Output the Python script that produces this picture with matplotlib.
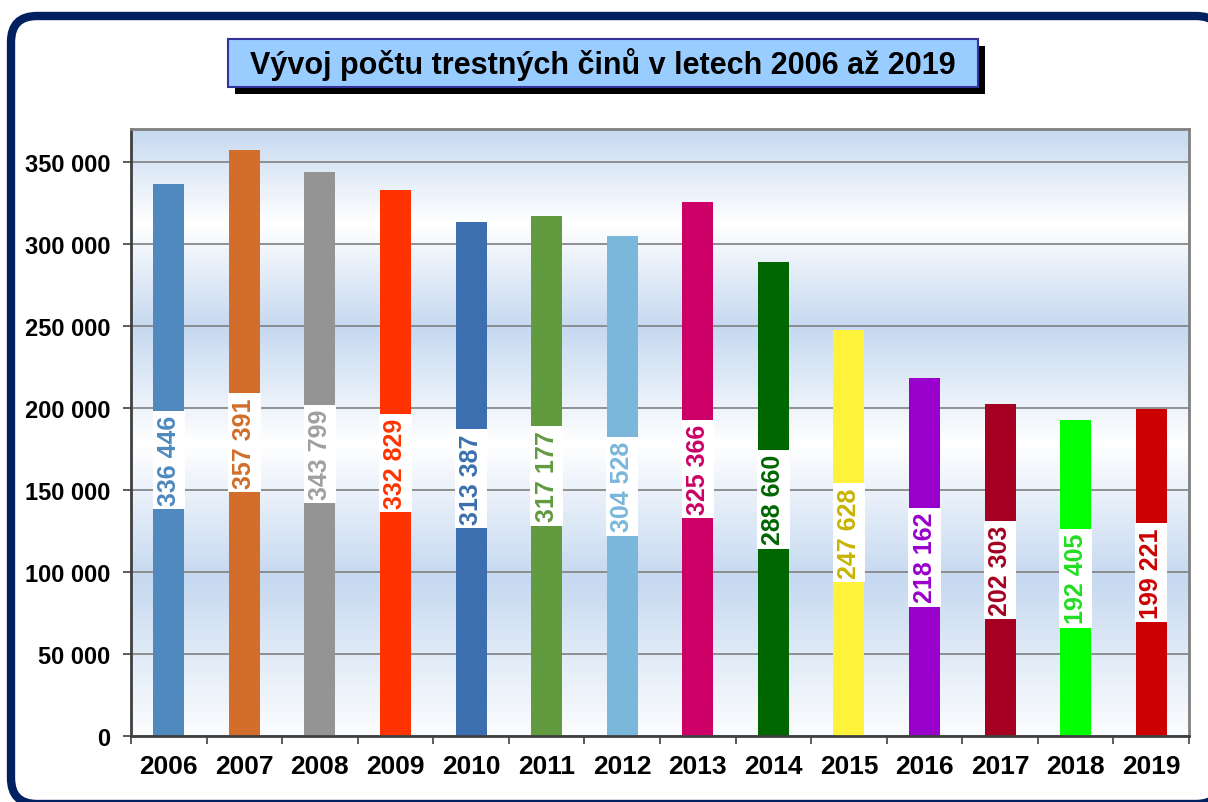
import numpy as np
import matplotlib.pyplot as plt
from matplotlib.patches import FancyBboxPatch, Rectangle
from matplotlib.colors import LinearSegmentedColormap

plt.rcParams["font.family"] = ["Liberation Sans", "DejaVu Sans"]

years = ["2006", "2007", "2008", "2009", "2010", "2011", "2012",
         "2013", "2014", "2015", "2016", "2017", "2018", "2019"]
counts = [336446, 357391, 343799, 332829, 313387, 317177, 304528,
          325366, 288660, 247628, 218162, 202303, 192405, 199221]
bar_colors = ["#4f89bd", "#d26d2b", "#949494", "#ff3300", "#3b6faf", "#629a40",
              "#7ab7da", "#cc0066", "#006600", "#fff23a", "#9900cc", "#a50021",
              "#00ff00", "#cc0000"]
label_colors = ["#4f89bd", "#d26d2b", "#a0a0a0", "#ff3300", "#3b6faf", "#629a40",
                "#7ab7da", "#cc0066", "#006600", "#c8b400", "#9900cc", "#a50021",
                "#22dd22", "#cc0000"]
title = "Vývoj počtu trestných činů v letech 2006 až 2019"

W, H = 1208, 803
fig = plt.figure(figsize=(W / 100, H / 100), dpi=100)
fig.patch.set_facecolor("white")

# pozadí: rám, titulek (v pixelech)
bg = fig.add_axes([0, 0, 1, 1], zorder=0)
bg.set_xlim(0, W)
bg.set_ylim(H, 0)
bg.axis("off")
bg.add_patch(FancyBboxPatch((11, 17), 1211, 788,
                            boxstyle="round,pad=0,rounding_size=26",
                            facecolor="white", edgecolor="#002060", linewidth=6))
bg.add_patch(Rectangle((235, 47), 750, 48, facecolor="black", edgecolor="none"))
bg.add_patch(Rectangle((228, 40), 750, 48, facecolor="#99ccff",
                       edgecolor="#333399", linewidth=1.5))
bg.text(603, 65, title, ha="center", va="center", fontsize=22,
        fontweight="bold", color="black")

ax = fig.add_axes([131 / W, 66 / H, 1058 / W, 607 / H], zorder=1)
ymax = 370000
x = np.arange(len(years))
ax.set_xlim(-0.5, len(years) - 0.5)
ax.set_ylim(0, ymax)

# přechod pozadí grafu
grad_y = [0, 96000, 178000, 249000, 313000, 370000]
grad_v = [0.05, 1.0, 0.0, 1.0, 0.0, 1.0]
yy = np.linspace(0, ymax, 400)
vals = np.interp(yy, grad_y, grad_v).reshape(-1, 1)
cmap = LinearSegmentedColormap.from_list("bg", ["#ffffff", "#c6d9f0"])
ax.imshow(vals, extent=[-0.5, len(years) - 0.5, 0, ymax], origin="lower",
          aspect="auto", cmap=cmap, vmin=0, vmax=1, zorder=0)

ax.set_yticks(range(0, 350001, 50000))
ax.yaxis.grid(True, color="#808080", linewidth=1.2, zorder=1)
ax.set_axisbelow(True)

ax.bar(x, counts, width=0.41, color=bar_colors, zorder=2)

for xi, v, c in zip(x, counts, label_colors):
    ax.text(xi, v / 2, f"{v:,}".replace(",", " "), rotation=90,
            ha="center", va="center", fontsize=18, fontweight="bold", color=c,
            zorder=3,
            bbox=dict(facecolor="white", edgecolor="none", pad=3))

ax.set_yticklabels([f"{v:,}".replace(",", " ") for v in range(0, 350001, 50000)],
                   fontsize=17, fontweight="bold")
ax.set_xticks(x)
ax.set_xticklabels(years, fontsize=19, fontweight="bold")
ax.set_xticks(np.arange(-0.5, len(years)), minor=True)
ax.tick_params(axis="x", which="major", length=0, pad=13)
ax.tick_params(axis="x", which="minor", length=6, width=1.2, color="#404040",
               direction="out")
ax.tick_params(axis="y", length=6, width=1.2, color="#404040", pad=9)

for side in ["left", "bottom"]:
    ax.spines[side].set_color("#404040")
    ax.spines[side].set_linewidth(2)
for side in ["top", "right"]:
    ax.spines[side].set_color("#808080")
    ax.spines[side].set_linewidth(2)

fig.savefig("out.png", dpi=100)
